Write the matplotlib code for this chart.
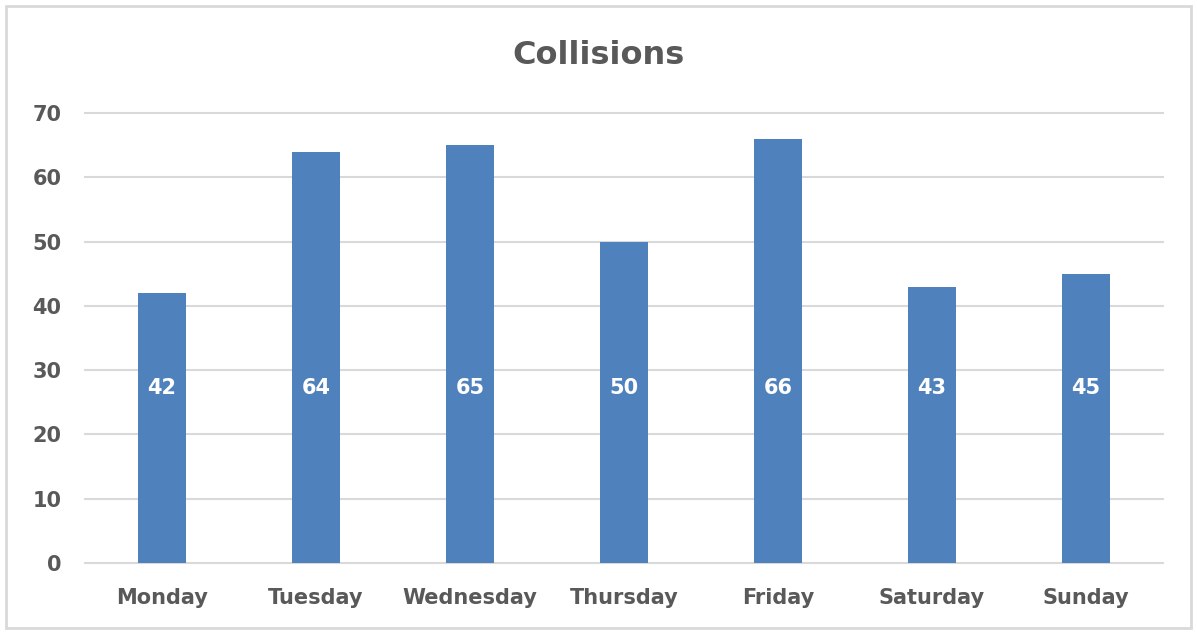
import numpy as np
import matplotlib.pyplot as plt
from matplotlib.patches import Rectangle

# Data
days = ['Monday', 'Tuesday', 'Wednesday', 'Thursday', 'Friday', 'Saturday', 'Sunday']
collisions = [42, 64, 65, 50, 66, 43, 45]
yticks = [0, 10, 20, 30, 40, 50, 60, 70]

bar_color = '#4f81bd'
text_color = '#595959'
grid_color = '#d9d9d9'

fig = plt.figure(figsize=(11.97, 6.33), dpi=100)
fig.patches.append(Rectangle((0.005, 0.008), 0.99, 0.982, transform=fig.transFigure,
                             fill=False, edgecolor='#d9d9d9', linewidth=2))
ax = fig.add_axes([0.071, 0.1106, 0.9006, 0.7109])

x = np.arange(len(days))
bars = ax.bar(x, collisions, width=0.31, color=bar_color, zorder=3)

# value labels, all at the same height inside the bars
for xi, v in zip(x, collisions):
    ax.text(xi, 27.2, str(v), ha='center', va='center', color='white',
            fontsize=15, fontweight='bold', zorder=4)

ax.set_xlim(-0.5, len(days) - 0.5)
ax.set_ylim(0, 70)
ax.set_yticks(yticks)
ax.set_xticks(x)
ax.set_xticklabels(days)
ax.grid(axis='y', color=grid_color, linewidth=1.5, zorder=0)
for gl in ax.get_ygridlines():
    gl.set_clip_on(False)
for s in ax.spines.values():
    s.set_visible(False)
ax.tick_params(length=0, labelsize=15, labelcolor=text_color)
ax.tick_params(axis='x', pad=18)
ax.tick_params(axis='y', pad=17)
for lab in ax.get_xticklabels() + ax.get_yticklabels():
    lab.set_fontweight('bold')

fig.text(0.5, 0.913, 'Collisions', ha='center', va='center', fontsize=23,
         fontweight='bold', color=text_color)

fig.savefig('out.png', dpi=100)
